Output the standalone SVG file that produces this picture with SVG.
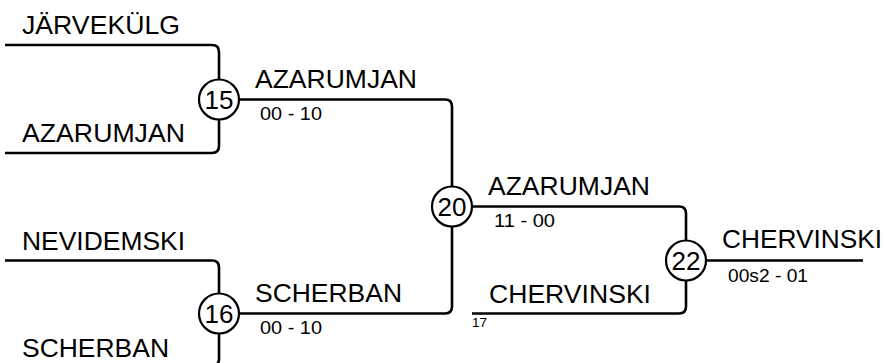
<svg xmlns="http://www.w3.org/2000/svg" width="884" height="363" viewBox="0 0 884 363">
<style>
.ln{fill:none;stroke:#000;stroke-width:2.6;stroke-linecap:butt}
.c{fill:#fff;stroke:#000;stroke-width:2.2}
.nm{font-family:"Liberation Sans",Arial,sans-serif;font-size:25.5px;fill:#000}
.num{font-family:"Liberation Sans",Arial,sans-serif;font-size:26px;fill:#000;text-anchor:middle}
.sc{font-family:"Liberation Sans",Arial,sans-serif;font-size:18.5px;fill:#000}
.sm{font-family:"Liberation Sans",Arial,sans-serif;font-size:13.5px;fill:#000}
</style>
<rect width="884" height="363" fill="#fff"/>
<g id="connectors">
<path class="ln" d="M5,45 H212 Q219,45 219,52 V79"/>
<path class="ln" d="M5,153 H212 Q219,153 219,146 V119"/>
<path class="ln" d="M239,99.5 H445 Q452,99.5 452,106.5 V186"/>
<path class="ln" d="M5,260.5 H212 Q219,260.5 219,267.5 V293"/>
<path class="ln" d="M219,333 V359 Q219,366 212,366 H5"/>
<path class="ln" d="M239,313.5 H445 Q452,313.5 452,306.5 V226"/>
<path class="ln" d="M472,206.5 H679 Q686,206.5 686,213.5 V240"/>
<path class="ln" d="M472,313.5 H679 Q686,313.5 686,306.5 V280"/>
<path class="ln" d="M706,260.5 H863"/>
</g>
<g id="entry-jarvekulg"><text class="nm" x="22" y="34" textLength="158" lengthAdjust="spacingAndGlyphs">JÄRVEKÜLG</text></g>
<g id="entry-azarumjan"><text class="nm" x="22" y="142" textLength="163" lengthAdjust="spacingAndGlyphs">AZARUMJAN</text></g>
<g id="entry-nevidemski"><text class="nm" x="22" y="250" textLength="163" lengthAdjust="spacingAndGlyphs">NEVIDEMSKI</text></g>
<g id="entry-scherban"><text class="nm" x="22" y="357" textLength="147" lengthAdjust="spacingAndGlyphs">SCHERBAN</text></g>
<g id="match15">
<circle class="c" cx="219" cy="99.5" r="20"/>
<text class="num" x="219" y="109">15</text>
<text class="nm" x="255" y="88" textLength="162" lengthAdjust="spacingAndGlyphs">AZARUMJAN</text>
<text class="sc" x="260" y="120" textLength="62" lengthAdjust="spacingAndGlyphs">00 - 10</text>
</g>
<g id="match16">
<circle class="c" cx="219" cy="313.5" r="20"/>
<text class="num" x="219" y="323">16</text>
<text class="nm" x="255" y="302" textLength="147" lengthAdjust="spacingAndGlyphs">SCHERBAN</text>
<text class="sc" x="260" y="334" textLength="62" lengthAdjust="spacingAndGlyphs">00 - 10</text>
</g>
<g id="match20">
<circle class="c" cx="452" cy="206.5" r="20"/>
<text class="num" x="452" y="216">20</text>
<text class="nm" x="488" y="195" textLength="162" lengthAdjust="spacingAndGlyphs">AZARUMJAN</text>
<text class="sc" x="494" y="227" textLength="61" lengthAdjust="spacingAndGlyphs">11 - 00</text>
</g>
<g id="entry-chervinski">
<text class="nm" x="489" y="303" textLength="162" lengthAdjust="spacingAndGlyphs">CHERVINSKI</text>
<text class="sm" x="472" y="327">17</text>
</g>
<g id="match22">
<circle class="c" cx="686" cy="260.5" r="20"/>
<text class="num" x="686" y="270">22</text>
<text class="nm" x="722" y="248" textLength="160" lengthAdjust="spacingAndGlyphs">CHERVINSKI</text>
<text class="sc" x="728" y="282" textLength="80" lengthAdjust="spacingAndGlyphs">00s2 - 01</text>
</g>
</svg>
